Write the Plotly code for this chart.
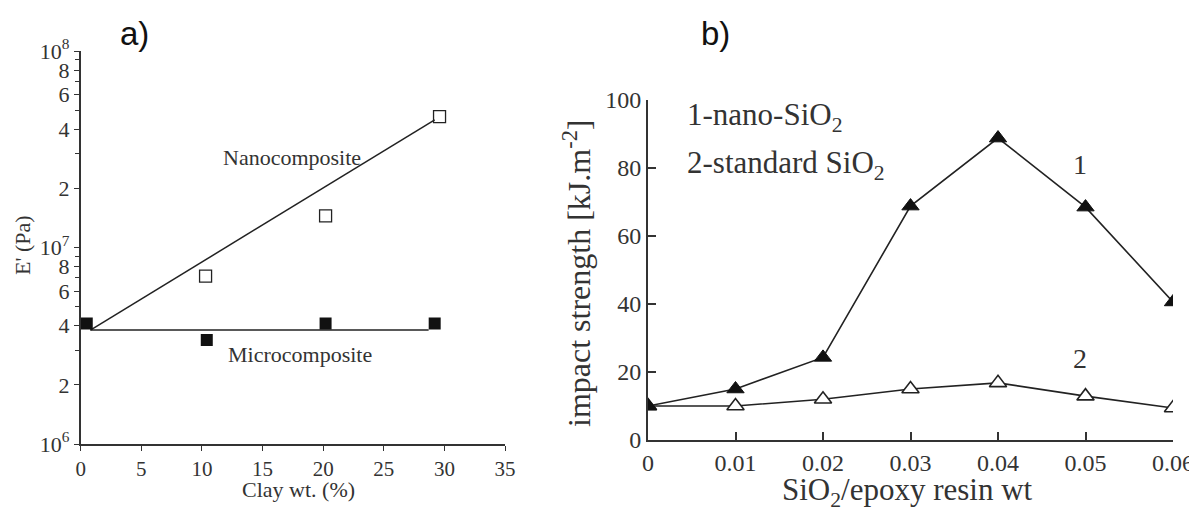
import plotly.graph_objects as go

# ---------------- data: panel a) ----------------
nano_x = [10.3, 20.2, 29.6]
nano_y = [7.15e6, 1.45e7, 4.63e7]
micro_x = [0.5, 10.4, 20.2, 29.2]
micro_y = [4.1e6, 3.38e6, 4.1e6, 4.1e6]
nano_fit_x = [0.8, 29.2]
nano_fit_y = [3.8e6, 4.46e7]
micro_fit_x = [0.8, 28.7]
micro_fit_y = [3.8e6, 3.8e6]
a_ytick_vals = [1e6, 2e6, 4e6, 6e6, 8e6, 1e7, 2e7, 4e7, 6e7, 8e7, 1e8]
a_ytick_text = ["10<sup>6</sup>", "2", "4", "6", "8",
                "10<sup>7</sup>", "2", "4", "6", "8", "10<sup>8</sup>"]
a_yminor_vals = [3e6, 5e6, 7e6, 9e6, 3e7, 5e7, 7e7, 9e7]
a_xticks = [0, 5, 10, 15, 20, 25, 30, 35]

# ---------------- data: panel b) ----------------
sio2_x = [0, 0.01, 0.02, 0.03, 0.04, 0.05, 0.06]
nano_sio2 = [10.0, 15.0, 24.3, 68.8, 88.8, 68.5, 40.6]
std_sio2 = [10.0, 10.0, 12.0, 15.0, 16.8, 12.9, 9.4]
b_xticks = [0, 0.01, 0.02, 0.03, 0.04, 0.05, 0.06]
b_xtick_text = ["0", "0.01", "0.02", "0.03", "0.04", "0.05", "0.06"]
b_yticks = [0, 20, 40, 60, 80, 100]

SERIF = "Liberation Serif, Times New Roman, serif"
SANS = "Liberation Sans, Arial, sans-serif"
TXT = "#333333"
LINE = "#222222"

# page offset (body margin) compensation; figure fills the visible window
OX, OY = 8, 8
W, H = 1189, 500


def px(x):
    return (x - OX) / W


def py(y):
    return 1 - (y - OY) / H


fig = go.Figure()

# panel a
fig.add_trace(go.Scatter(x=nano_fit_x, y=nano_fit_y, mode="lines",
                         line=dict(color=LINE, width=1.5), showlegend=False,
                         xaxis="x", yaxis="y"))
fig.add_trace(go.Scatter(x=micro_fit_x, y=micro_fit_y, mode="lines",
                         line=dict(color=LINE, width=1.5), showlegend=False,
                         xaxis="x", yaxis="y"))
fig.add_trace(go.Scatter(x=nano_x, y=nano_y, mode="markers",
                         marker=dict(symbol="square-open", size=12, color=LINE,
                                     line=dict(width=1.3, color=LINE)),
                         showlegend=False, xaxis="x", yaxis="y"))
fig.add_trace(go.Scatter(x=micro_x, y=micro_y, mode="markers",
                         marker=dict(symbol="square", size=12, color="#111111"),
                         showlegend=False, xaxis="x", yaxis="y"))

# panel b
fig.add_trace(go.Scatter(x=sio2_x, y=std_sio2, mode="lines+markers",
                         line=dict(color=LINE, width=1.6),
                         marker=dict(symbol="triangle-up", size=15, color="white",
                                     line=dict(width=1.6, color=LINE)),
                         showlegend=False, xaxis="x2", yaxis="y2"))
fig.add_trace(go.Scatter(x=sio2_x, y=nano_sio2, mode="lines+markers",
                         line=dict(color=LINE, width=1.6),
                         marker=dict(symbol="triangle-up", size=15, color="#111111",
                                     line=dict(width=1, color="#111111")),
                         showlegend=False, xaxis="x2", yaxis="y2"))

axfont_ax = dict(family=SERIF, size=21, color=TXT)
axfont_ay = dict(family=SERIF, size=22, color=TXT)
axfont_b = dict(family=SERIF, size=24, color=TXT)

fig.update_layout(
    width=W, height=H,
    font=dict(family=SERIF, color=TXT),
    margin=dict(l=0, r=0, t=0, b=0),
    paper_bgcolor="white", plot_bgcolor="white",
    showlegend=False,
    xaxis=dict(domain=[px(80.7), px(505)], anchor="y", range=[0, 35],
               tickvals=a_xticks, ticks="outside", ticklen=5, tickwidth=1.3,
               tickcolor=TXT, showline=True, linecolor=TXT, linewidth=1.6,
               showgrid=False, zeroline=False, tickfont=axfont_ax,
               automargin=False),
    yaxis=dict(domain=[py(444), py(51)], anchor="x", type="log",
               range=[6, 8], tickvals=a_ytick_vals, ticktext=a_ytick_text,
               ticks="outside", ticklen=5, tickwidth=1.3, tickcolor=TXT,
               minor=dict(tickvals=a_yminor_vals, ticks="outside", ticklen=4,
                          tickwidth=1.1, tickcolor=TXT, showgrid=False),
               showline=True, linecolor=TXT, linewidth=1.6, showgrid=False,
               zeroline=False, tickfont=axfont_ay, automargin=False),
    xaxis2=dict(domain=[px(648), px(1173)], anchor="y2", range=[0, 0.06],
                tickvals=b_xticks, ticktext=b_xtick_text,
                ticks="inside", ticklen=8, tickwidth=1.5, tickcolor=TXT,
                showline=True, linecolor=TXT, linewidth=1.8, showgrid=False,
                zeroline=False, tickfont=axfont_b, automargin=False),
    yaxis2=dict(domain=[py(440), py(100)], anchor="x2", range=[0, 100],
                tickvals=b_yticks, ticks="inside", ticklen=8, tickwidth=1.5,
                tickcolor=TXT, showline=True, linecolor=TXT, linewidth=1.8,
                showgrid=False, zeroline=False, tickfont=axfont_b,
                automargin=False),
)


def paper_text(x, y, text, size, family=SERIF, angle=0, color=TXT):
    fig.add_annotation(x=px(x), y=py(y), xref="paper", yref="paper", text=text,
                       xanchor="center", yanchor="middle", textangle=angle,
                       showarrow=False, font=dict(family=family, size=size, color=color))


# axis titles
paper_text(298, 489, "Clay wt. (%)", 22)
paper_text(22, 245, "E' (Pa)", 22, angle=-90)
paper_text(907, 492, "SiO<sub>2</sub>/epoxy resin wt", 31)
paper_text(577, 274, "impact strength [kJ.m<sup>-2</sup>]", 32, angle=-90)

# panel labels
paper_text(134, 33, "a)", 33, family=SANS, color="#111111")
paper_text(715, 33, "b)", 33, family=SANS, color="#111111")

# in-plot texts
ann_font_a = dict(family=SERIF, size=22, color=TXT)
fig.add_annotation(x=17.4, y=7.46, xref="x", yref="y", text="Nanocomposite",
                   showarrow=False, font=ann_font_a)
fig.add_annotation(x=18.1, y=6.455, xref="x", yref="y", text="Microcomposite",
                   showarrow=False, font=ann_font_a)
fig.add_annotation(x=0.00423, y=95, xref="x2", yref="y2", text="1-nano-SiO<sub>2</sub>",
                   xanchor="left", showarrow=False,
                   font=dict(family=SERIF, size=31, color=TXT))
fig.add_annotation(x=0.00423, y=81, xref="x2", yref="y2", text="2-standard SiO<sub>2</sub>",
                   xanchor="left", showarrow=False,
                   font=dict(family=SERIF, size=31, color=TXT))
fig.add_annotation(x=0.0494, y=81, xref="x2", yref="y2", text="1",
                   showarrow=False, font=dict(family=SERIF, size=28, color=TXT))
fig.add_annotation(x=0.0494, y=24, xref="x2", yref="y2", text="2",
                   showarrow=False, font=dict(family=SERIF, size=28, color=TXT))

fig.write_html("out.html")
